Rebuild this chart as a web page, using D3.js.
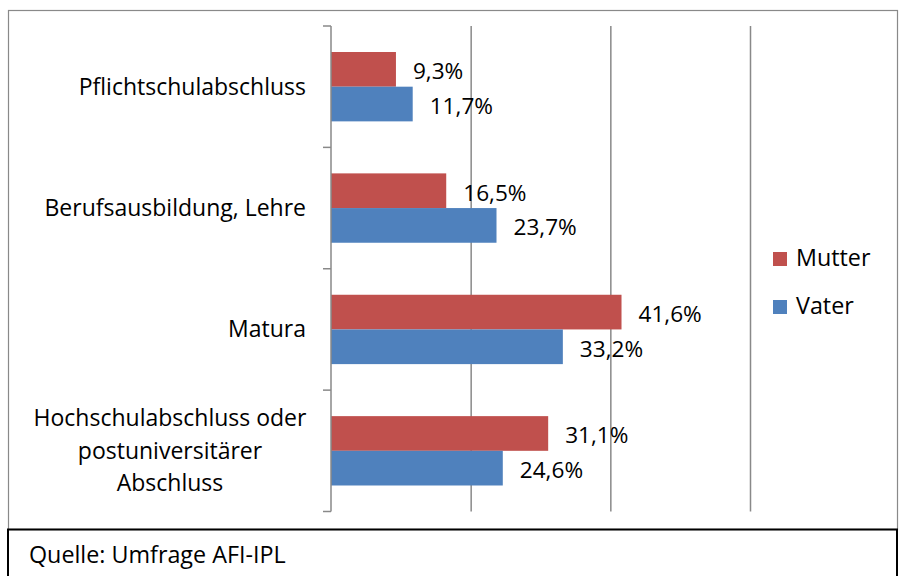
<!DOCTYPE html>
<html>
<head>
<meta charset="utf-8">
<script src="https://cdn.jsdelivr.net/npm/d3@7"></script>
<style>
  html, body { margin: 0; padding: 0; background: #fff; }
  svg { display: block; font-family: "Open Sans", sans-serif; }
</style>
</head>
<body>
<svg id="chart" width="899" height="576"></svg>
<script>
// Daten
const kategorien = [
    ["Pflichtschulabschluss"],
    ["Berufsausbildung, Lehre"],
    ["Matura"],
    ["Hochschulabschluss oder", "postuniversitärer", "Abschluss"]
];
const serien = ["Mutter", "Vater"];
const mutter = [9.3, 16.5, 41.6, 31.1];
const vater = [11.7, 23.7, 33.2, 24.6];
const gitterWerte = [20, 40, 60];
const quelle = "Quelle: Umfrage AFI-IPL";

const farben = { Mutter: "#C0504D", Vater: "#4F81BD" };
const werte = { Mutter: mutter, Vater: vater };

const svg = d3.select("#chart");

// Rahmen
svg.append("rect")
    .attr("x", 8.5).attr("y", 10.5)
    .attr("width", 889).attr("height", 519)
    .attr("fill", "none")
    .attr("stroke", "#898989")
    .attr("stroke-width", 1.2);

svg.append("path")
    .attr("d", "M8,590 L8,529.5 L897,529.5 L897,590")
    .attr("fill", "none")
    .attr("stroke", "#000")
    .attr("stroke-width", 2);

svg.append("text")
    .attr("x", 29).attr("y", 563)
    .attr("font-size", 23.3)
    .attr("fill", "#000")
    .text(quelle);

const x = d3.scaleLinear().domain([0, 60]).range([331, 750]);
const keys = kategorien.map(d => d.join(" "));
const y = d3.scaleBand().domain(keys).range([26, 511.5]);
const ySub = d3.scaleBand().domain(serien).range([0, y.bandwidth()]).paddingOuter(0.75);

// Gitterlinien
svg.append("g")
    .attr("transform", `translate(0,${y.range()[1]})`)
    .call(d3.axisBottom(x).tickValues(gitterWerte).tickSize(-(y.range()[1] - y.range()[0])).tickFormat(""))
    .call(g => g.select(".domain").remove())
    .call(g => g.selectAll(".tick line").attr("stroke", "#898989").attr("stroke-width", 1.5));

// Balken
serien.forEach(s => {
    svg.append("g").selectAll("rect")
        .data(werte[s])
        .join("rect")
        .attr("x", x(0))
        .attr("y", (d, i) => y(keys[i]) + ySub(s))
        .attr("width", d => x(d) - x(0))
        .attr("height", ySub.bandwidth())
        .attr("fill", farben[s]);

    svg.append("g").selectAll("text")
        .data(werte[s])
        .join("text")
        .attr("x", d => x(d) + 17)
        .attr("y", (d, i) => y(keys[i]) + ySub(s) + ySub.bandwidth() / 2 + 2)
        .attr("dy", "0.35em")
        .attr("font-size", 22.6)
        .attr("fill", "#000")
        .text(d => d.toFixed(1).replace(".", ",") + "%");
});

// Y-Achse
const achse = svg.append("g");
achse.append("line")
    .attr("x1", x(0)).attr("x2", x(0))
    .attr("y1", y.range()[0]).attr("y2", y.range()[1])
    .attr("stroke", "#898989").attr("stroke-width", 1.5);
achse.selectAll("line.tick")
    .data(keys.map(k => y(k)).concat([y.range()[1]]))
    .join("line")
    .attr("class", "tick")
    .attr("x1", x(0) - 8).attr("x2", x(0))
    .attr("y1", d => d).attr("y2", d => d)
    .attr("stroke", "#898989").attr("stroke-width", 1.5);

kategorien.forEach((zeilen, i) => {
    const mitte = y(keys[i]) + y.bandwidth() / 2;
    const t = svg.append("text")
        .attr("font-size", 23)
        .attr("fill", "#000");
    if (zeilen.length === 1) {
        t.attr("x", 306).attr("y", mitte).attr("dy", "0.35em")
            .attr("text-anchor", "end").text(zeilen[0]);
    } else {
        t.attr("text-anchor", "middle");
        zeilen.forEach((z, j) => {
            t.append("tspan")
                .attr("x", 170)
                .attr("y", mitte + (j - (zeilen.length - 1) / 2) * 32.5)
                .attr("dy", "0.35em")
                .text(z);
        });
    }
});

// Legende
const legende = svg.append("g").selectAll("g")
    .data(serien)
    .join("g")
    .attr("transform", (d, i) => `translate(773,${252 + i * 48})`);
legende.append("rect")
    .attr("width", 14).attr("height", 14)
    .attr("fill", d => farben[d]);
legende.append("text")
    .attr("x", 23).attr("y", 14)
    .attr("font-size", 23.3)
    .attr("fill", "#000")
    .text(d => d);
</script>
</body>
</html>
